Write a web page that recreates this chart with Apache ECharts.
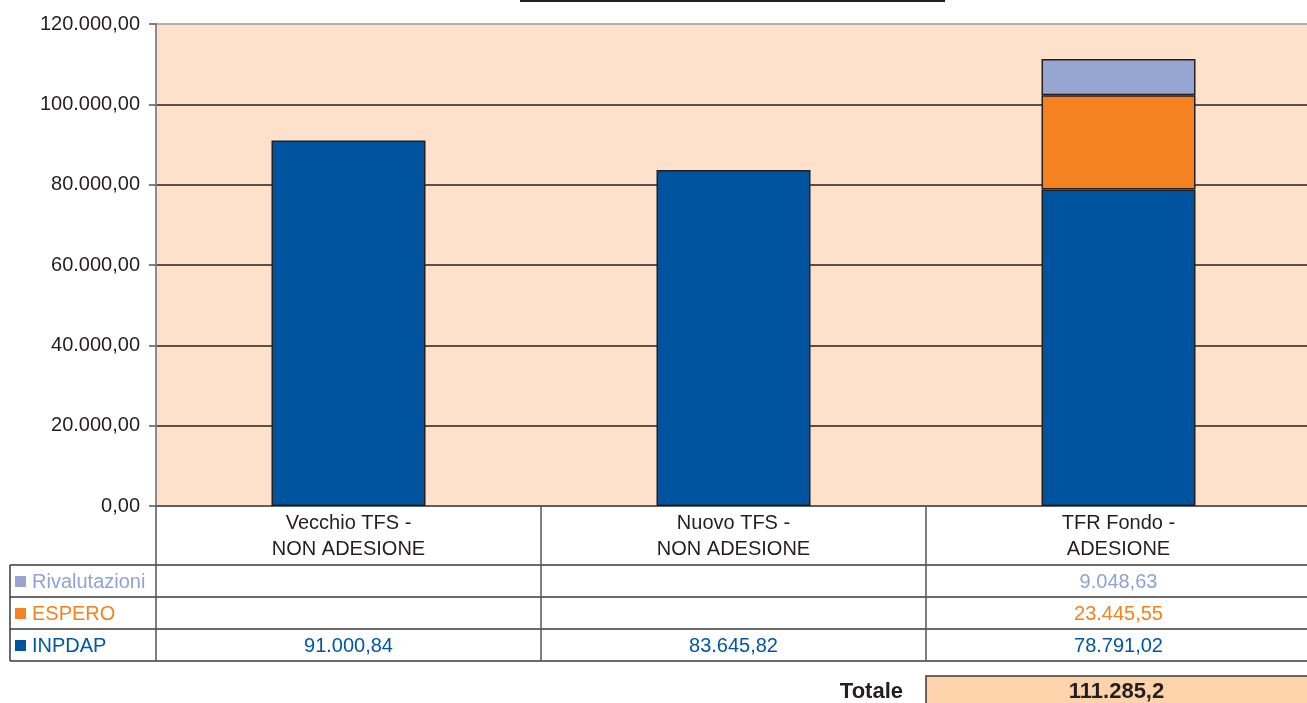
<!DOCTYPE html>
<html>
<head>
<meta charset="utf-8">
<style>
  html, body { margin: 0; padding: 0; background: #fff; }
  #chart { width: 1307px; height: 703px; }
</style>
<script src="https://cdn.jsdelivr.net/npm/echarts@6/dist/echarts.min.js"></script>
</head>
<body>
<div id="chart"></div>
<script>
// data
var categories = ['Vecchio TFS -\nNON ADESIONE', 'Nuovo TFS -\nNON ADESIONE', 'TFR Fondo -\nADESIONE'];
var inpdap = [91000.84, 83645.82, 78791.02];
var espero = [null, null, 23445.55];
var rivalutazioni = [null, null, 9048.63];
var yTicks = [0, 20000, 40000, 60000, 80000, 100000, 120000];

var seriesNames = ['INPDAP', 'ESPERO', 'Rivalutazioni'];
var seriesData = [inpdap, espero, rivalutazioni];
var seriesColors = ['#00539F', '#F58220', '#96A5D1'];
var textColors = ['#0057A6', '#F58220', '#92A2D2'];

var FONT = '"Liberation Sans", Arial, Helvetica, sans-serif';
var INK = '#231F20';

// italian number format
function fmt(v, d) {
  var s = v.toFixed(d).split('.');
  var i = s[0].replace(/\B(?=(\d{3})+(?!\d))/g, '.');
  return d ? i + ',' + s[1] : i;
}

var chartDom = document.getElementById('chart');
var myChart = echarts.init(chartDom);
var option;

option = {
  animation: false,
  grid: {
    left: 156, top: 24, width: 1155, bottom: 197,
    outerBoundsMode: 'none',
    show: true, backgroundColor: '#FEE1CA', borderWidth: 0
  },
  xAxis: {
    type: 'category',
    data: categories,
    axisLine: { lineStyle: { color: '#555', width: 1.5 } },
    axisTick: { show: false },
    axisLabel: { color: INK, fontSize: 20, fontFamily: FONT, lineHeight: 26, margin: 4 }
  },
  yAxis: {
    type: 'value',
    min: yTicks[0],
    max: yTicks[yTicks.length - 1],
    interval: yTicks[1] - yTicks[0],
    axisLine: { show: true, lineStyle: { color: '#8C8C8C', width: 2 } },
    axisTick: { show: true, length: 7, lineStyle: { color: '#555', width: 1.5 } },
    axisLabel: {
      color: INK, fontSize: 20, fontFamily: FONT, margin: 16,
      formatter: function (v) { return fmt(v, 2); }
    },
    splitLine: {
      lineStyle: { color: ['#555', INK, INK, INK, INK, INK, '#9A9A9A'], width: 1.5 }
    }
  },
  series: seriesNames.map(function (name, k) {
    return {
      name: name,
      type: 'bar',
      stack: 'tot',
      barWidth: '40%',
      data: seriesData[k],
      itemStyle: { color: seriesColors[k], borderColor: INK, borderWidth: 1.5 }
    };
  })
};

option && myChart.setOption(option);

// data table below the axis
function buildTable() {
  var c0 = myChart.convertToPixel({ xAxisIndex: 0 }, 0);
  var c1 = myChart.convertToPixel({ xAxisIndex: 0 }, 1);
  var band = c1 - c0;
  var y0 = myChart.convertToPixel({ yAxisIndex: 0 }, 0);
  var left = c0 - band / 2;
  var outer = 10;
  var headerH = 59, rowH = 32;
  var right = 1307;
  var els = [];
  var lineStyle = { stroke: '#3A3A3A', lineWidth: 1.5 };

  var rowTop = y0 + headerH;
  var rowsOrder = [2, 1, 0]; // Rivalutazioni, ESPERO, INPDAP
  var bottom = rowTop + rowH * rowsOrder.length;

  // horizontal lines
  for (var r = 0; r <= rowsOrder.length; r++) {
    var yy = rowTop + r * rowH;
    els.push({ type: 'line', shape: { x1: outer, y1: yy, x2: right, y2: yy }, style: lineStyle });
  }
  // vertical lines
  els.push({ type: 'line', shape: { x1: outer, y1: rowTop, x2: outer, y2: bottom }, style: lineStyle });
  for (var b = 0; b < categories.length; b++) {
    var xb = left + b * band;
    els.push({ type: 'line', shape: { x1: xb, y1: y0, x2: xb, y2: bottom }, style: { stroke: '#555', lineWidth: 1.5 } });
  }

  rowsOrder.forEach(function (k, r) {
    var cy = rowTop + r * rowH + rowH / 2;
    els.push({ type: 'rect', shape: { x: 15, y: cy - 5, width: 11, height: 11 }, style: { fill: seriesColors[k] } });
    els.push({
      type: 'text', x: 32, y: cy + 1,
      style: { text: seriesNames[k], fill: textColors[k], font: '20px ' + FONT, verticalAlign: 'middle' }
    });
    seriesData[k].forEach(function (v, i) {
      if (v == null) return;
      els.push({
        type: 'text', x: c0 + i * band, y: cy + 1,
        style: { text: fmt(v, 2), fill: textColors[k], font: '20px ' + FONT, align: 'center', verticalAlign: 'middle' }
      });
    });
  });

  // totale for the last category
  var last = categories.length - 1;
  var total = 0;
  seriesData.forEach(function (arr) { total += arr[last] || 0; });
  var tx = left + last * band;
  var ty = bottom + 15;
  els.push({ type: 'rect', shape: { x: tx, y: ty, width: right - tx + 10, height: 40 },
    style: { fill: '#FDD3AC', stroke: '#3A3A3A', lineWidth: 1.5 } });
  els.push({ type: 'text', x: (tx + right) / 2, y: ty + 16,
    style: { text: fmt(total, 1), fill: INK, font: 'bold 22px ' + FONT, align: 'center', verticalAlign: 'middle' } });
  els.push({ type: 'text', x: tx - 23, y: ty + 16,
    style: { text: 'Totale', fill: INK, font: 'bold 22px ' + FONT, align: 'right', verticalAlign: 'middle' } });

  // remnant of the underlined title at the top
  els.push({ type: 'rect', shape: { x: 520, y: 0, width: 425, height: 2 }, style: { fill: INK } });

  myChart.setOption({ graphic: { elements: els } });
}

buildTable();
</script>
</body>
</html>
